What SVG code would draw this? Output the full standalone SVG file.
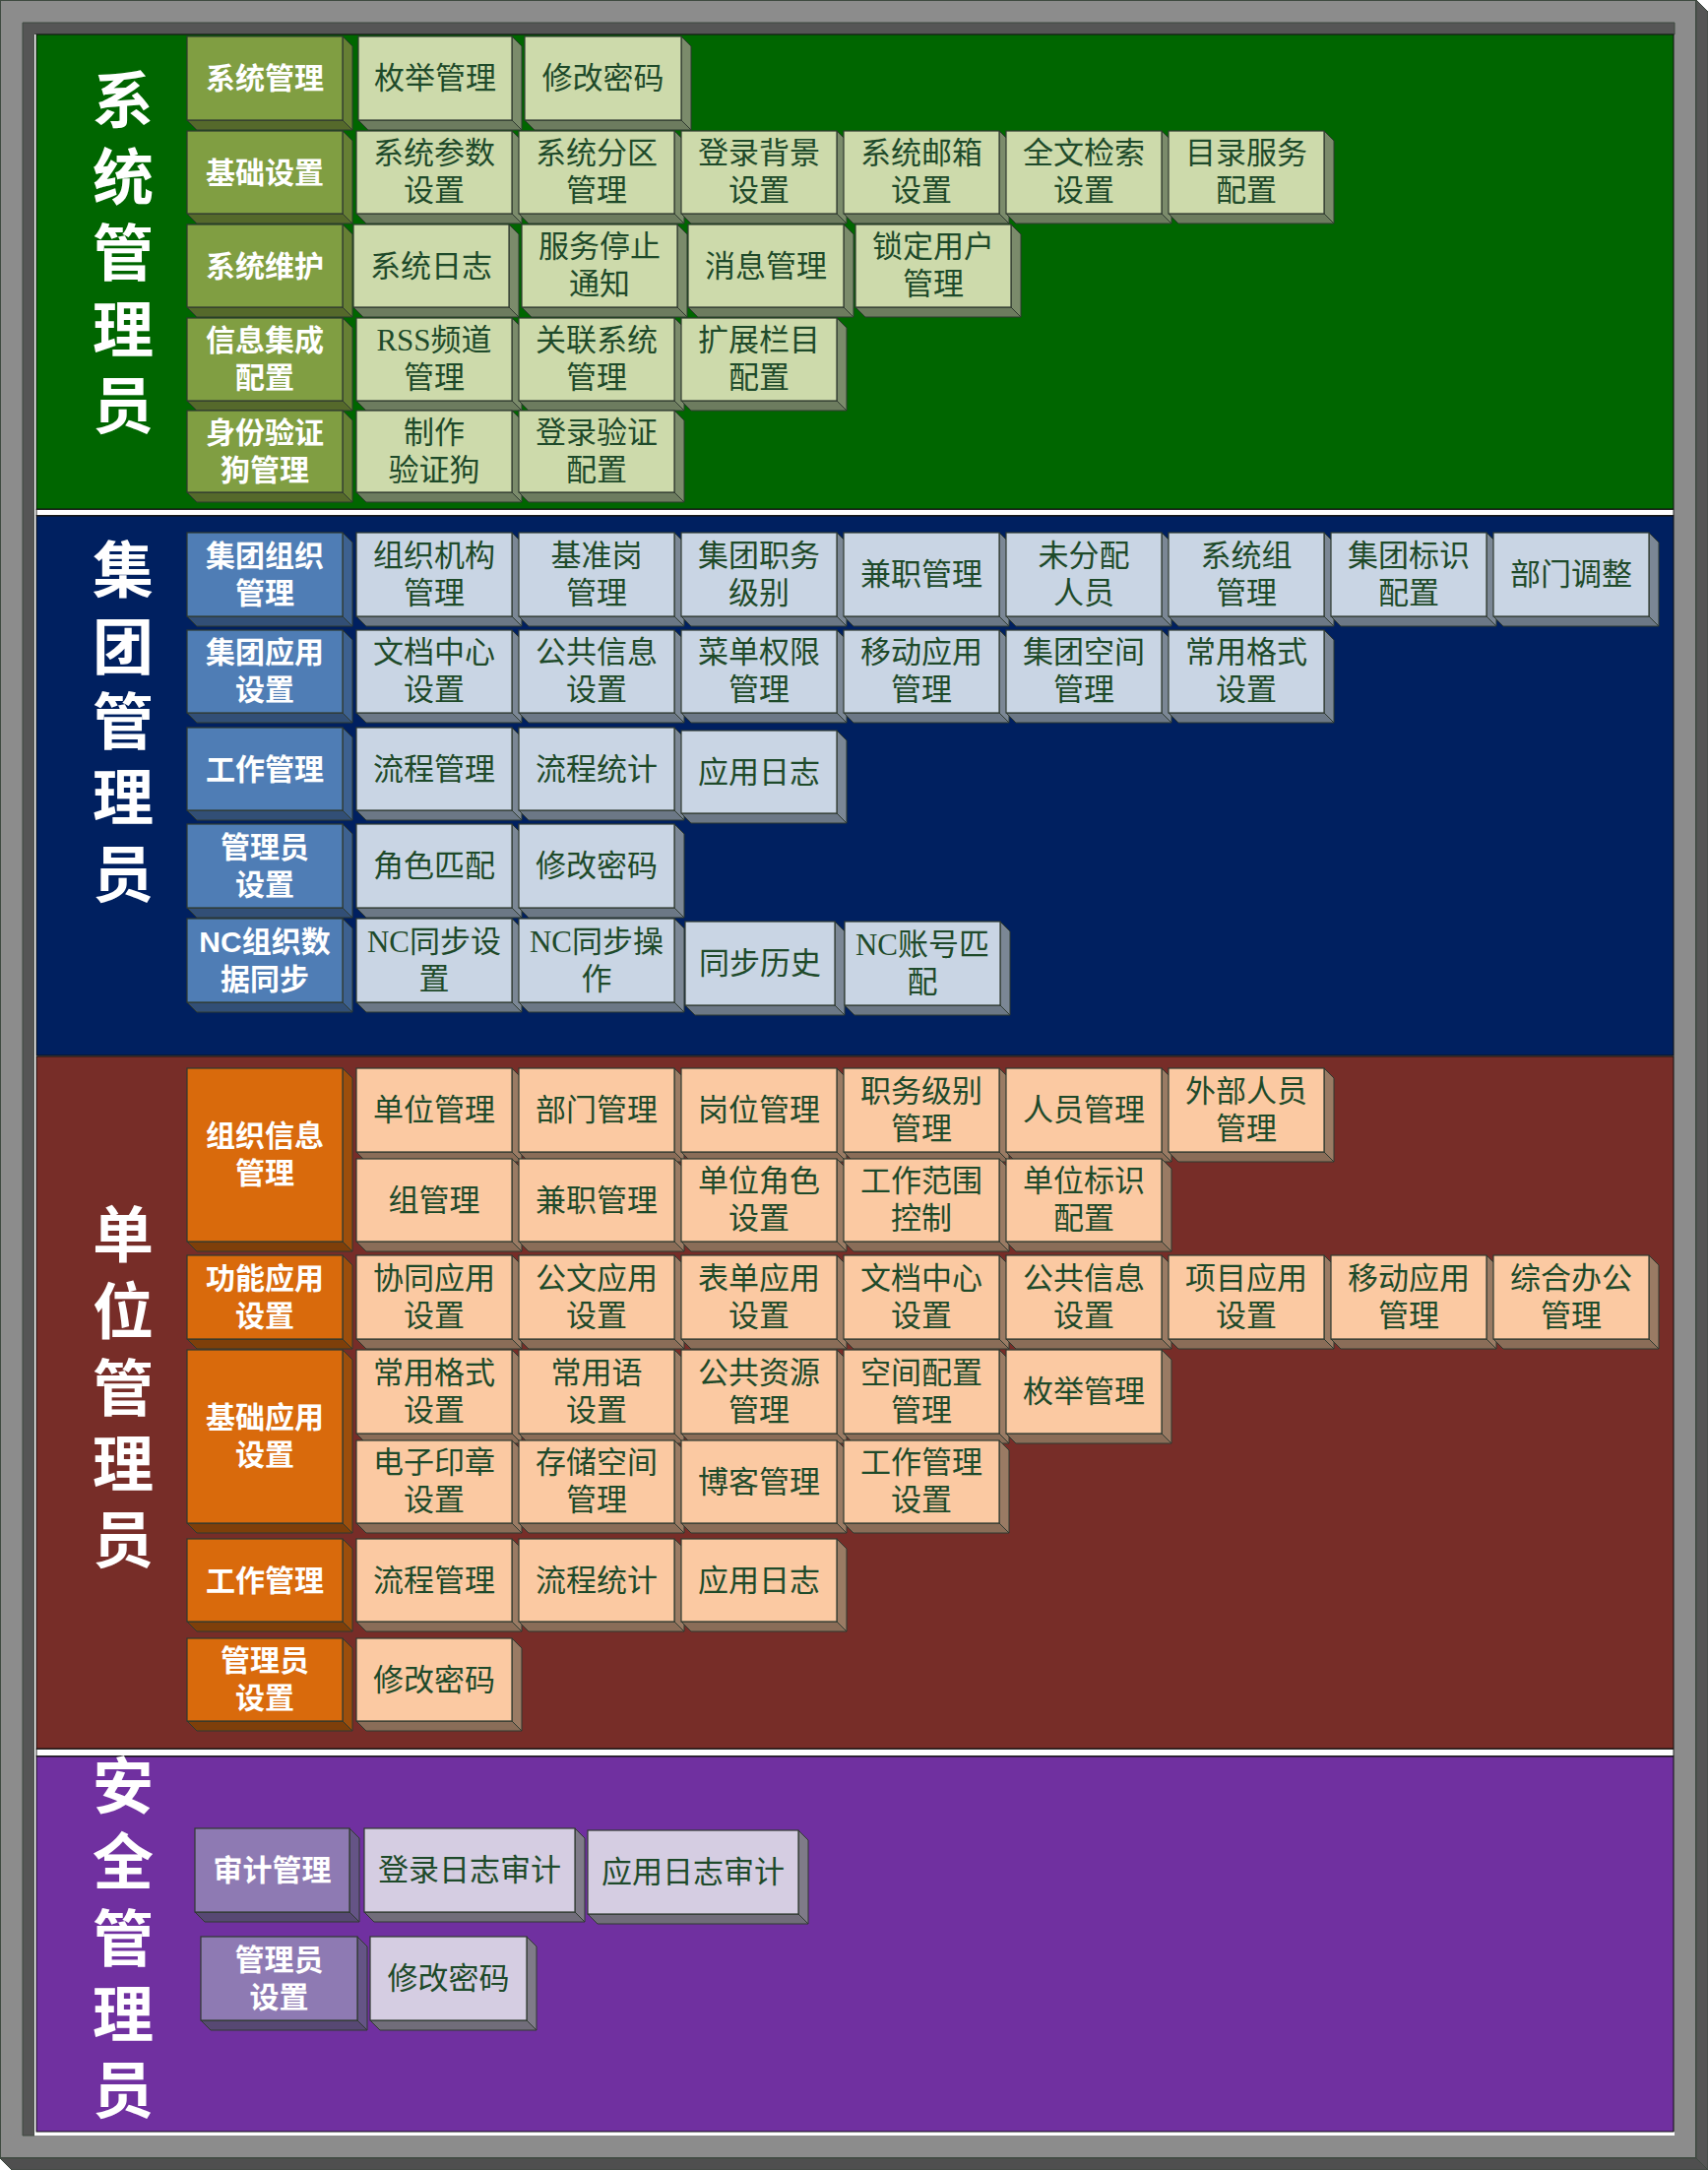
<svg xmlns="http://www.w3.org/2000/svg" width="1735" height="2204" viewBox="0 0 1735 2204">
<style>
.t{font-family:"Liberation Sans","Noto Sans CJK SC",sans-serif;font-weight:700;font-size:62px;fill:#fff;text-anchor:middle;dominant-baseline:central}
.ct{font-family:"Liberation Sans","Noto Sans CJK SC",sans-serif;font-weight:700;font-size:30px;fill:#fff;text-anchor:middle;dominant-baseline:central}
.it{font-family:"Liberation Serif","Noto Sans CJK SC",serif;font-size:31px;fill:#1e4a2a;text-anchor:middle;dominant-baseline:central}
.f{stroke:#2f3a30;stroke-width:1.2}
.r,.b{stroke:#2f3a30;stroke-width:1}
.gc .f{fill:#809e42}.gc .r{fill:#667f34}.gc .b{fill:#55692b}
.gi .f{fill:#cddaab}.gi .r{fill:#7b8b6b}.gi .b{fill:#6d7c5f}
.bc .f{fill:#4f7db5}.bc .r{fill:#3d6190}.bc .b{fill:#324f76}
.bi .f{fill:#c9d5e4}.bi .r{fill:#7b8795}.bi .b{fill:#6c7886}
.rc .f{fill:#d96a0c}.rc .r{fill:#9c4e0c}.rc .b{fill:#7e3f0a}
.ri .f{fill:#fbc9a2}.ri .r{fill:#9a7b64}.ri .b{fill:#8a6d58}
.pc .f{fill:#8e7ab3}.pc .r{fill:#655486}.pc .b{fill:#574873}
.pi .f{fill:#d5cde2}.pi .r{fill:#7f7b88}.pi .b{fill:#716d7a}
</style>

<g id="frame">
<rect x="0.5" y="0.5" width="1722" height="2191" fill="#8c8c8c" stroke="#3e4a40"/>
<polygon points="1723,0 1735,12 1735,2204 1723,2192" fill="#555" stroke="#3e4a40"/>
<polygon points="0,2192 1723,2192 1735,2204 12,2204" fill="#4f4f4f" stroke="#3e4a40"/>
<polygon points="23,23 1701,23 1701,35 35,35 35,2169 23,2169" fill="#555" stroke="#3e4a40"/>
<rect x="35" y="35" width="3" height="2134" fill="#fff"/>
<rect x="35" y="2165" width="1666" height="4" fill="#fff"/>
</g>

<g id="sections">
<rect x="37" y="35" width="1663" height="482" fill="#006600" stroke="#111"/>
<rect x="37" y="517.5" width="1663" height="6" fill="#fff" stroke="#222"/>
<rect x="37" y="524" width="1663" height="548" fill="#002060" stroke="#111"/>
<rect x="37" y="1073" width="1663" height="703" fill="#772d28" stroke="#111"/>
<rect x="37" y="1776.5" width="1663" height="7" fill="#fff" stroke="#222"/>
<rect x="37" y="1784" width="1663" height="381" fill="#7030a0" stroke="#111"/>
</g>

<g id="titles">
<text class="t"><tspan x="125" y="103">系</tspan><tspan x="125" y="181">统</tspan><tspan x="125" y="258">管</tspan><tspan x="125" y="336">理</tspan><tspan x="125" y="413">员</tspan></text>
<text class="t"><tspan x="125" y="580">集</tspan><tspan x="125" y="658">团</tspan><tspan x="125" y="734">管</tspan><tspan x="125" y="811">理</tspan><tspan x="125" y="889">员</tspan></text>
<text class="t"><tspan x="125" y="1255">单</tspan><tspan x="125" y="1333">位</tspan><tspan x="125" y="1411">管</tspan><tspan x="125" y="1488">理</tspan><tspan x="125" y="1565">员</tspan></text>
<text class="t"><tspan x="125" y="1815">安</tspan><tspan x="125" y="1892">全</tspan><tspan x="125" y="1970">管</tspan><tspan x="125" y="2047">理</tspan><tspan x="125" y="2124">员</tspan></text>
</g>

<g id="connectors"/>

<!-- GREEN -->
<g id="g-c1" class="gc"><polygon class="r" points="348,37 358,47 358,132 348,122"/><polygon class="b" points="190,122 348,122 358,132 200,132"/><rect class="f" x="190" y="37" width="158" height="85"/><text class="ct" x="269" y="79.5">系统管理</text></g>
<g id="g-c2" class="gc"><polygon class="r" points="348,133 358,143 358,227 348,217"/><polygon class="b" points="190,217 348,217 358,227 200,227"/><rect class="f" x="190" y="133" width="158" height="84"/><text class="ct" x="269" y="175">基础设置</text></g>
<g id="g-c3" class="gc"><polygon class="r" points="348,228 358,238 358,322 348,312"/><polygon class="b" points="190,312 348,312 358,322 200,322"/><rect class="f" x="190" y="228" width="158" height="84"/><text class="ct" x="269" y="270">系统维护</text></g>
<g id="g-c4" class="gc"><polygon class="r" points="348,323 358,333 358,417 348,407"/><polygon class="b" points="190,407 348,407 358,417 200,417"/><rect class="f" x="190" y="323" width="158" height="84"/><text class="ct"><tspan x="269" y="345">信息集成</tspan><tspan x="269" y="383">配置</tspan></text></g>
<g id="g-c5" class="gc"><polygon class="r" points="348,417 358,427 358,510 348,500"/><polygon class="b" points="190,500 348,500 358,510 200,510"/><rect class="f" x="190" y="417" width="158" height="83"/><text class="ct"><tspan x="269" y="438.5">身份验证</tspan><tspan x="269" y="476.5">狗管理</tspan></text></g>

<g id="g1-1" class="gi"><polygon class="r" points="520,37 530,47 530,132 520,122"/><polygon class="b" points="364,122 520,122 530,132 374,132"/><rect class="f" x="364" y="37" width="156" height="85"/><text class="it" x="442" y="79.5">枚举管理</text></g>
<g id="g1-2" class="gi"><polygon class="r" points="692,37 702,47 702,132 692,122"/><polygon class="b" points="533,122 692,122 702,132 543,132"/><rect class="f" x="533" y="37" width="159" height="85"/><text class="it" x="612.5" y="79.5">修改密码</text></g>

<g id="g2-1" class="gi"><polygon class="r" points="520,133 530,143 530,227 520,217"/><polygon class="b" points="362,217 520,217 530,227 372,227"/><rect class="f" x="362" y="133" width="158" height="84"/><text class="it"><tspan x="441" y="155">系统参数</tspan><tspan x="441" y="193">设置</tspan></text></g>
<g id="g2-2" class="gi"><polygon class="r" points="685,133 695,143 695,227 685,217"/><polygon class="b" points="527,217 685,217 695,227 537,227"/><rect class="f" x="527" y="133" width="158" height="84"/><text class="it"><tspan x="606" y="155">系统分区</tspan><tspan x="606" y="193">管理</tspan></text></g>
<g id="g2-3" class="gi"><polygon class="r" points="850,133 860,143 860,227 850,217"/><polygon class="b" points="692,217 850,217 860,227 702,227"/><rect class="f" x="692" y="133" width="158" height="84"/><text class="it"><tspan x="771" y="155">登录背景</tspan><tspan x="771" y="193">设置</tspan></text></g>
<g id="g2-4" class="gi"><polygon class="r" points="1015,133 1025,143 1025,227 1015,217"/><polygon class="b" points="857,217 1015,217 1025,227 867,227"/><rect class="f" x="857" y="133" width="158" height="84"/><text class="it"><tspan x="936" y="155">系统邮箱</tspan><tspan x="936" y="193">设置</tspan></text></g>
<g id="g2-5" class="gi"><polygon class="r" points="1180,133 1190,143 1190,227 1180,217"/><polygon class="b" points="1022,217 1180,217 1190,227 1032,227"/><rect class="f" x="1022" y="133" width="158" height="84"/><text class="it"><tspan x="1101" y="155">全文检索</tspan><tspan x="1101" y="193">设置</tspan></text></g>
<g id="g2-6" class="gi"><polygon class="r" points="1345,133 1355,143 1355,227 1345,217"/><polygon class="b" points="1187,217 1345,217 1355,227 1197,227"/><rect class="f" x="1187" y="133" width="158" height="84"/><text class="it"><tspan x="1266" y="155">目录服务</tspan><tspan x="1266" y="193">配置</tspan></text></g>

<g id="g3-1" class="gi"><polygon class="r" points="517,228 527,238 527,322 517,312"/><polygon class="b" points="359,312 517,312 527,322 369,322"/><rect class="f" x="359" y="228" width="158" height="84"/><text class="it" x="438" y="270">系统日志</text></g>
<g id="g3-2" class="gi"><polygon class="r" points="688,228 698,238 698,322 688,312"/><polygon class="b" points="530,312 688,312 698,322 540,322"/><rect class="f" x="530" y="228" width="158" height="84"/><text class="it"><tspan x="609" y="250">服务停止</tspan><tspan x="609" y="288">通知</tspan></text></g>
<g id="g3-3" class="gi"><polygon class="r" points="857,228 867,238 867,322 857,312"/><polygon class="b" points="699,312 857,312 867,322 709,322"/><rect class="f" x="699" y="228" width="158" height="84"/><text class="it" x="778" y="270">消息管理</text></g>
<g id="g3-4" class="gi"><polygon class="r" points="1027,228 1037,238 1037,322 1027,312"/><polygon class="b" points="869,312 1027,312 1037,322 879,322"/><rect class="f" x="869" y="228" width="158" height="84"/><text class="it"><tspan x="948" y="250">锁定用户</tspan><tspan x="948" y="288">管理</tspan></text></g>

<g id="g4-1" class="gi"><polygon class="r" points="520,323 530,333 530,417 520,407"/><polygon class="b" points="362,407 520,407 530,417 372,417"/><rect class="f" x="362" y="323" width="158" height="84"/><text class="it"><tspan x="441" y="345">RSS频道</tspan><tspan x="441" y="383">管理</tspan></text></g>
<g id="g4-2" class="gi"><polygon class="r" points="685,323 695,333 695,417 685,407"/><polygon class="b" points="527,407 685,407 695,417 537,417"/><rect class="f" x="527" y="323" width="158" height="84"/><text class="it"><tspan x="606" y="345">关联系统</tspan><tspan x="606" y="383">管理</tspan></text></g>
<g id="g4-3" class="gi"><polygon class="r" points="850,323 860,333 860,417 850,407"/><polygon class="b" points="692,407 850,407 860,417 702,417"/><rect class="f" x="692" y="323" width="158" height="84"/><text class="it"><tspan x="771" y="345">扩展栏目</tspan><tspan x="771" y="383">配置</tspan></text></g>

<g id="g5-1" class="gi"><polygon class="r" points="520,417 530,427 530,510 520,500"/><polygon class="b" points="362,500 520,500 530,510 372,510"/><rect class="f" x="362" y="417" width="158" height="83"/><text class="it"><tspan x="441" y="438.5">制作</tspan><tspan x="441" y="476.5">验证狗</tspan></text></g>
<g id="g5-2" class="gi"><polygon class="r" points="685,417 695,427 695,510 685,500"/><polygon class="b" points="527,500 685,500 695,510 537,510"/><rect class="f" x="527" y="417" width="158" height="83"/><text class="it"><tspan x="606" y="438.5">登录验证</tspan><tspan x="606" y="476.5">配置</tspan></text></g>

<!-- BLUE -->
<g id="b-c1" class="bc"><polygon class="r" points="348,541 358,551 358,636 348,626"/><polygon class="b" points="190,626 348,626 358,636 200,636"/><rect class="f" x="190" y="541" width="158" height="85"/><text class="ct"><tspan x="269" y="563.5">集团组织</tspan><tspan x="269" y="601.5">管理</tspan></text></g>
<g id="b-c2" class="bc"><polygon class="r" points="348,640 358,650 358,734 348,724"/><polygon class="b" points="190,724 348,724 358,734 200,734"/><rect class="f" x="190" y="640" width="158" height="84"/><text class="ct"><tspan x="269" y="662">集团应用</tspan><tspan x="269" y="700">设置</tspan></text></g>
<g id="b-c3" class="bc"><polygon class="r" points="348,739 358,749 358,833 348,823"/><polygon class="b" points="190,823 348,823 358,833 200,833"/><rect class="f" x="190" y="739" width="158" height="84"/><text class="ct" x="269" y="781">工作管理</text></g>
<g id="b-c4" class="bc"><polygon class="r" points="348,837 358,847 358,932 348,922"/><polygon class="b" points="190,922 348,922 358,932 200,932"/><rect class="f" x="190" y="837" width="158" height="85"/><text class="ct"><tspan x="269" y="859.5">管理员</tspan><tspan x="269" y="897.5">设置</tspan></text></g>
<g id="b-c5" class="bc"><polygon class="r" points="348,933 358,943 358,1028 348,1018"/><polygon class="b" points="190,1018 348,1018 358,1028 200,1028"/><rect class="f" x="190" y="933" width="158" height="85"/><text class="ct"><tspan x="269" y="955.5">NC组织数</tspan><tspan x="269" y="993.5">据同步</tspan></text></g>

<g id="b1-1" class="bi"><polygon class="r" points="520,541 530,551 530,636 520,626"/><polygon class="b" points="362,626 520,626 530,636 372,636"/><rect class="f" x="362" y="541" width="158" height="85"/><text class="it"><tspan x="441" y="563.5">组织机构</tspan><tspan x="441" y="601.5">管理</tspan></text></g>
<g id="b1-2" class="bi"><polygon class="r" points="685,541 695,551 695,636 685,626"/><polygon class="b" points="527,626 685,626 695,636 537,636"/><rect class="f" x="527" y="541" width="158" height="85"/><text class="it"><tspan x="606" y="563.5">基准岗</tspan><tspan x="606" y="601.5">管理</tspan></text></g>
<g id="b1-3" class="bi"><polygon class="r" points="850,541 860,551 860,636 850,626"/><polygon class="b" points="692,626 850,626 860,636 702,636"/><rect class="f" x="692" y="541" width="158" height="85"/><text class="it"><tspan x="771" y="563.5">集团职务</tspan><tspan x="771" y="601.5">级别</tspan></text></g>
<g id="b1-4" class="bi"><polygon class="r" points="1015,541 1025,551 1025,636 1015,626"/><polygon class="b" points="857,626 1015,626 1025,636 867,636"/><rect class="f" x="857" y="541" width="158" height="85"/><text class="it" x="936" y="583.5">兼职管理</text></g>
<g id="b1-5" class="bi"><polygon class="r" points="1180,541 1190,551 1190,636 1180,626"/><polygon class="b" points="1022,626 1180,626 1190,636 1032,636"/><rect class="f" x="1022" y="541" width="158" height="85"/><text class="it"><tspan x="1101" y="563.5">未分配</tspan><tspan x="1101" y="601.5">人员</tspan></text></g>
<g id="b1-6" class="bi"><polygon class="r" points="1345,541 1355,551 1355,636 1345,626"/><polygon class="b" points="1187,626 1345,626 1355,636 1197,636"/><rect class="f" x="1187" y="541" width="158" height="85"/><text class="it"><tspan x="1266" y="563.5">系统组</tspan><tspan x="1266" y="601.5">管理</tspan></text></g>
<g id="b1-7" class="bi"><polygon class="r" points="1510,541 1520,551 1520,636 1510,626"/><polygon class="b" points="1352,626 1510,626 1520,636 1362,636"/><rect class="f" x="1352" y="541" width="158" height="85"/><text class="it"><tspan x="1431" y="563.5">集团标识</tspan><tspan x="1431" y="601.5">配置</tspan></text></g>
<g id="b1-8" class="bi"><polygon class="r" points="1675,541 1685,551 1685,636 1675,626"/><polygon class="b" points="1517,626 1675,626 1685,636 1527,636"/><rect class="f" x="1517" y="541" width="158" height="85"/><text class="it" x="1596" y="583.5">部门调整</text></g>

<g id="b2-1" class="bi"><polygon class="r" points="520,640 530,650 530,734 520,724"/><polygon class="b" points="362,724 520,724 530,734 372,734"/><rect class="f" x="362" y="640" width="158" height="84"/><text class="it"><tspan x="441" y="662">文档中心</tspan><tspan x="441" y="700">设置</tspan></text></g>
<g id="b2-2" class="bi"><polygon class="r" points="685,640 695,650 695,734 685,724"/><polygon class="b" points="527,724 685,724 695,734 537,734"/><rect class="f" x="527" y="640" width="158" height="84"/><text class="it"><tspan x="606" y="662">公共信息</tspan><tspan x="606" y="700">设置</tspan></text></g>
<g id="b2-3" class="bi"><polygon class="r" points="850,640 860,650 860,734 850,724"/><polygon class="b" points="692,724 850,724 860,734 702,734"/><rect class="f" x="692" y="640" width="158" height="84"/><text class="it"><tspan x="771" y="662">菜单权限</tspan><tspan x="771" y="700">管理</tspan></text></g>
<g id="b2-4" class="bi"><polygon class="r" points="1015,640 1025,650 1025,734 1015,724"/><polygon class="b" points="857,724 1015,724 1025,734 867,734"/><rect class="f" x="857" y="640" width="158" height="84"/><text class="it"><tspan x="936" y="662">移动应用</tspan><tspan x="936" y="700">管理</tspan></text></g>
<g id="b2-5" class="bi"><polygon class="r" points="1180,640 1190,650 1190,734 1180,724"/><polygon class="b" points="1022,724 1180,724 1190,734 1032,734"/><rect class="f" x="1022" y="640" width="158" height="84"/><text class="it"><tspan x="1101" y="662">集团空间</tspan><tspan x="1101" y="700">管理</tspan></text></g>
<g id="b2-6" class="bi"><polygon class="r" points="1345,640 1355,650 1355,734 1345,724"/><polygon class="b" points="1187,724 1345,724 1355,734 1197,734"/><rect class="f" x="1187" y="640" width="158" height="84"/><text class="it"><tspan x="1266" y="662">常用格式</tspan><tspan x="1266" y="700">设置</tspan></text></g>

<g id="b3-1" class="bi"><polygon class="r" points="520,739 530,749 530,833 520,823"/><polygon class="b" points="362,823 520,823 530,833 372,833"/><rect class="f" x="362" y="739" width="158" height="84"/><text class="it" x="441" y="781">流程管理</text></g>
<g id="b3-2" class="bi"><polygon class="r" points="685,739 695,749 695,833 685,823"/><polygon class="b" points="527,823 685,823 695,833 537,833"/><rect class="f" x="527" y="739" width="158" height="84"/><text class="it" x="606" y="781">流程统计</text></g>
<g id="b3-3" class="bi"><polygon class="r" points="850,742 860,752 860,836 850,826"/><polygon class="b" points="692,826 850,826 860,836 702,836"/><rect class="f" x="692" y="742" width="158" height="84"/><text class="it" x="771" y="784">应用日志</text></g>

<g id="b4-1" class="bi"><polygon class="r" points="520,837 530,847 530,932 520,922"/><polygon class="b" points="362,922 520,922 530,932 372,932"/><rect class="f" x="362" y="837" width="158" height="85"/><text class="it" x="441" y="879.5">角色匹配</text></g>
<g id="b4-2" class="bi"><polygon class="r" points="685,837 695,847 695,932 685,922"/><polygon class="b" points="527,922 685,922 695,932 537,932"/><rect class="f" x="527" y="837" width="158" height="85"/><text class="it" x="606" y="879.5">修改密码</text></g>

<g id="b5-1" class="bi"><polygon class="r" points="520,933 530,943 530,1028 520,1018"/><polygon class="b" points="362,1018 520,1018 530,1028 372,1028"/><rect class="f" x="362" y="933" width="158" height="85"/><text class="it"><tspan x="441" y="955.5">NC同步设</tspan><tspan x="441" y="993.5">置</tspan></text></g>
<g id="b5-2" class="bi"><polygon class="r" points="685,933 695,943 695,1028 685,1018"/><polygon class="b" points="527,1018 685,1018 695,1028 537,1028"/><rect class="f" x="527" y="933" width="158" height="85"/><text class="it"><tspan x="606" y="955.5">NC同步操</tspan><tspan x="606" y="993.5">作</tspan></text></g>
<g id="b5-3" class="bi"><polygon class="r" points="848,936 858,946 858,1031 848,1021"/><polygon class="b" points="696,1021 848,1021 858,1031 706,1031"/><rect class="f" x="696" y="936" width="152" height="85"/><text class="it" x="772" y="978.5">同步历史</text></g>
<g id="b5-4" class="bi"><polygon class="r" points="1016,936 1026,946 1026,1031 1016,1021"/><polygon class="b" points="858,1021 1016,1021 1026,1031 868,1031"/><rect class="f" x="858" y="936" width="158" height="85"/><text class="it"><tspan x="937" y="958.5">NC账号匹</tspan><tspan x="937" y="996.5">配</tspan></text></g>

<!-- RED -->
<g id="r-c1" class="rc"><polygon class="r" points="348,1085 358,1095 358,1271 348,1261"/><polygon class="b" points="190,1261 348,1261 358,1271 200,1271"/><rect class="f" x="190" y="1085" width="158" height="176"/><text class="ct"><tspan x="269" y="1153">组织信息</tspan><tspan x="269" y="1191">管理</tspan></text></g>
<g id="r-c2" class="rc"><polygon class="r" points="348,1275 358,1285 358,1370 348,1360"/><polygon class="b" points="190,1360 348,1360 358,1370 200,1370"/><rect class="f" x="190" y="1275" width="158" height="85"/><text class="ct"><tspan x="269" y="1297.5">功能应用</tspan><tspan x="269" y="1335.5">设置</tspan></text></g>
<g id="r-c3" class="rc"><polygon class="r" points="348,1371 358,1381 358,1557 348,1547"/><polygon class="b" points="190,1547 348,1547 358,1557 200,1557"/><rect class="f" x="190" y="1371" width="158" height="176"/><text class="ct"><tspan x="269" y="1439">基础应用</tspan><tspan x="269" y="1477">设置</tspan></text></g>
<g id="r-c4" class="rc"><polygon class="r" points="348,1563 358,1573 358,1657 348,1647"/><polygon class="b" points="190,1647 348,1647 358,1657 200,1657"/><rect class="f" x="190" y="1563" width="158" height="84"/><text class="ct" x="269" y="1605">工作管理</text></g>
<g id="r-c5" class="rc"><polygon class="r" points="348,1664 358,1674 358,1758 348,1748"/><polygon class="b" points="190,1748 348,1748 358,1758 200,1758"/><rect class="f" x="190" y="1664" width="158" height="84"/><text class="ct"><tspan x="269" y="1686">管理员</tspan><tspan x="269" y="1724">设置</tspan></text></g>

<g id="r1-1" class="ri"><polygon class="r" points="520,1085 530,1095 530,1180 520,1170"/><polygon class="b" points="362,1170 520,1170 530,1180 372,1180"/><rect class="f" x="362" y="1085" width="158" height="85"/><text class="it" x="441" y="1127.5">单位管理</text></g>
<g id="r1-2" class="ri"><polygon class="r" points="685,1085 695,1095 695,1180 685,1170"/><polygon class="b" points="527,1170 685,1170 695,1180 537,1180"/><rect class="f" x="527" y="1085" width="158" height="85"/><text class="it" x="606" y="1127.5">部门管理</text></g>
<g id="r1-3" class="ri"><polygon class="r" points="850,1085 860,1095 860,1180 850,1170"/><polygon class="b" points="692,1170 850,1170 860,1180 702,1180"/><rect class="f" x="692" y="1085" width="158" height="85"/><text class="it" x="771" y="1127.5">岗位管理</text></g>
<g id="r1-4" class="ri"><polygon class="r" points="1015,1085 1025,1095 1025,1180 1015,1170"/><polygon class="b" points="857,1170 1015,1170 1025,1180 867,1180"/><rect class="f" x="857" y="1085" width="158" height="85"/><text class="it"><tspan x="936" y="1107.5">职务级别</tspan><tspan x="936" y="1145.5">管理</tspan></text></g>
<g id="r1-5" class="ri"><polygon class="r" points="1180,1085 1190,1095 1190,1180 1180,1170"/><polygon class="b" points="1022,1170 1180,1170 1190,1180 1032,1180"/><rect class="f" x="1022" y="1085" width="158" height="85"/><text class="it" x="1101" y="1127.5">人员管理</text></g>
<g id="r1-6" class="ri"><polygon class="r" points="1345,1085 1355,1095 1355,1180 1345,1170"/><polygon class="b" points="1187,1170 1345,1170 1355,1180 1197,1180"/><rect class="f" x="1187" y="1085" width="158" height="85"/><text class="it"><tspan x="1266" y="1107.5">外部人员</tspan><tspan x="1266" y="1145.5">管理</tspan></text></g>

<g id="r2-1" class="ri"><polygon class="r" points="520,1177 530,1187 530,1271 520,1261"/><polygon class="b" points="362,1261 520,1261 530,1271 372,1271"/><rect class="f" x="362" y="1177" width="158" height="84"/><text class="it" x="441" y="1219">组管理</text></g>
<g id="r2-2" class="ri"><polygon class="r" points="685,1177 695,1187 695,1271 685,1261"/><polygon class="b" points="527,1261 685,1261 695,1271 537,1271"/><rect class="f" x="527" y="1177" width="158" height="84"/><text class="it" x="606" y="1219">兼职管理</text></g>
<g id="r2-3" class="ri"><polygon class="r" points="850,1177 860,1187 860,1271 850,1261"/><polygon class="b" points="692,1261 850,1261 860,1271 702,1271"/><rect class="f" x="692" y="1177" width="158" height="84"/><text class="it"><tspan x="771" y="1199">单位角色</tspan><tspan x="771" y="1237">设置</tspan></text></g>
<g id="r2-4" class="ri"><polygon class="r" points="1015,1177 1025,1187 1025,1271 1015,1261"/><polygon class="b" points="857,1261 1015,1261 1025,1271 867,1271"/><rect class="f" x="857" y="1177" width="158" height="84"/><text class="it"><tspan x="936" y="1199">工作范围</tspan><tspan x="936" y="1237">控制</tspan></text></g>
<g id="r2-5" class="ri"><polygon class="r" points="1180,1177 1190,1187 1190,1271 1180,1261"/><polygon class="b" points="1022,1261 1180,1261 1190,1271 1032,1271"/><rect class="f" x="1022" y="1177" width="158" height="84"/><text class="it"><tspan x="1101" y="1199">单位标识</tspan><tspan x="1101" y="1237">配置</tspan></text></g>

<g id="r3-1" class="ri"><polygon class="r" points="520,1275 530,1285 530,1370 520,1360"/><polygon class="b" points="362,1360 520,1360 530,1370 372,1370"/><rect class="f" x="362" y="1275" width="158" height="85"/><text class="it"><tspan x="441" y="1297.5">协同应用</tspan><tspan x="441" y="1335.5">设置</tspan></text></g>
<g id="r3-2" class="ri"><polygon class="r" points="685,1275 695,1285 695,1370 685,1360"/><polygon class="b" points="527,1360 685,1360 695,1370 537,1370"/><rect class="f" x="527" y="1275" width="158" height="85"/><text class="it"><tspan x="606" y="1297.5">公文应用</tspan><tspan x="606" y="1335.5">设置</tspan></text></g>
<g id="r3-3" class="ri"><polygon class="r" points="850,1275 860,1285 860,1370 850,1360"/><polygon class="b" points="692,1360 850,1360 860,1370 702,1370"/><rect class="f" x="692" y="1275" width="158" height="85"/><text class="it"><tspan x="771" y="1297.5">表单应用</tspan><tspan x="771" y="1335.5">设置</tspan></text></g>
<g id="r3-4" class="ri"><polygon class="r" points="1015,1275 1025,1285 1025,1370 1015,1360"/><polygon class="b" points="857,1360 1015,1360 1025,1370 867,1370"/><rect class="f" x="857" y="1275" width="158" height="85"/><text class="it"><tspan x="936" y="1297.5">文档中心</tspan><tspan x="936" y="1335.5">设置</tspan></text></g>
<g id="r3-5" class="ri"><polygon class="r" points="1180,1275 1190,1285 1190,1370 1180,1360"/><polygon class="b" points="1022,1360 1180,1360 1190,1370 1032,1370"/><rect class="f" x="1022" y="1275" width="158" height="85"/><text class="it"><tspan x="1101" y="1297.5">公共信息</tspan><tspan x="1101" y="1335.5">设置</tspan></text></g>
<g id="r3-6" class="ri"><polygon class="r" points="1345,1275 1355,1285 1355,1370 1345,1360"/><polygon class="b" points="1187,1360 1345,1360 1355,1370 1197,1370"/><rect class="f" x="1187" y="1275" width="158" height="85"/><text class="it"><tspan x="1266" y="1297.5">项目应用</tspan><tspan x="1266" y="1335.5">设置</tspan></text></g>
<g id="r3-7" class="ri"><polygon class="r" points="1510,1275 1520,1285 1520,1370 1510,1360"/><polygon class="b" points="1352,1360 1510,1360 1520,1370 1362,1370"/><rect class="f" x="1352" y="1275" width="158" height="85"/><text class="it"><tspan x="1431" y="1297.5">移动应用</tspan><tspan x="1431" y="1335.5">管理</tspan></text></g>
<g id="r3-8" class="ri"><polygon class="r" points="1675,1275 1685,1285 1685,1370 1675,1360"/><polygon class="b" points="1517,1360 1675,1360 1685,1370 1527,1370"/><rect class="f" x="1517" y="1275" width="158" height="85"/><text class="it"><tspan x="1596" y="1297.5">综合办公</tspan><tspan x="1596" y="1335.5">管理</tspan></text></g>

<g id="r4-1" class="ri"><polygon class="r" points="520,1371 530,1381 530,1466 520,1456"/><polygon class="b" points="362,1456 520,1456 530,1466 372,1466"/><rect class="f" x="362" y="1371" width="158" height="85"/><text class="it"><tspan x="441" y="1393.5">常用格式</tspan><tspan x="441" y="1431.5">设置</tspan></text></g>
<g id="r4-2" class="ri"><polygon class="r" points="685,1371 695,1381 695,1466 685,1456"/><polygon class="b" points="527,1456 685,1456 695,1466 537,1466"/><rect class="f" x="527" y="1371" width="158" height="85"/><text class="it"><tspan x="606" y="1393.5">常用语</tspan><tspan x="606" y="1431.5">设置</tspan></text></g>
<g id="r4-3" class="ri"><polygon class="r" points="850,1371 860,1381 860,1466 850,1456"/><polygon class="b" points="692,1456 850,1456 860,1466 702,1466"/><rect class="f" x="692" y="1371" width="158" height="85"/><text class="it"><tspan x="771" y="1393.5">公共资源</tspan><tspan x="771" y="1431.5">管理</tspan></text></g>
<g id="r4-4" class="ri"><polygon class="r" points="1015,1371 1025,1381 1025,1466 1015,1456"/><polygon class="b" points="857,1456 1015,1456 1025,1466 867,1466"/><rect class="f" x="857" y="1371" width="158" height="85"/><text class="it"><tspan x="936" y="1393.5">空间配置</tspan><tspan x="936" y="1431.5">管理</tspan></text></g>
<g id="r4-5" class="ri"><polygon class="r" points="1180,1371 1190,1381 1190,1466 1180,1456"/><polygon class="b" points="1022,1456 1180,1456 1190,1466 1032,1466"/><rect class="f" x="1022" y="1371" width="158" height="85"/><text class="it" x="1101" y="1413.5">枚举管理</text></g>

<g id="r5-1" class="ri"><polygon class="r" points="520,1463 530,1473 530,1557 520,1547"/><polygon class="b" points="362,1547 520,1547 530,1557 372,1557"/><rect class="f" x="362" y="1463" width="158" height="84"/><text class="it"><tspan x="441" y="1485">电子印章</tspan><tspan x="441" y="1523">设置</tspan></text></g>
<g id="r5-2" class="ri"><polygon class="r" points="685,1463 695,1473 695,1557 685,1547"/><polygon class="b" points="527,1547 685,1547 695,1557 537,1557"/><rect class="f" x="527" y="1463" width="158" height="84"/><text class="it"><tspan x="606" y="1485">存储空间</tspan><tspan x="606" y="1523">管理</tspan></text></g>
<g id="r5-3" class="ri"><polygon class="r" points="850,1463 860,1473 860,1557 850,1547"/><polygon class="b" points="692,1547 850,1547 860,1557 702,1557"/><rect class="f" x="692" y="1463" width="158" height="84"/><text class="it" x="771" y="1505">博客管理</text></g>
<g id="r5-4" class="ri"><polygon class="r" points="1015,1463 1025,1473 1025,1557 1015,1547"/><polygon class="b" points="857,1547 1015,1547 1025,1557 867,1557"/><rect class="f" x="857" y="1463" width="158" height="84"/><text class="it"><tspan x="936" y="1485">工作管理</tspan><tspan x="936" y="1523">设置</tspan></text></g>

<g id="r6-1" class="ri"><polygon class="r" points="520,1563 530,1573 530,1657 520,1647"/><polygon class="b" points="362,1647 520,1647 530,1657 372,1657"/><rect class="f" x="362" y="1563" width="158" height="84"/><text class="it" x="441" y="1605">流程管理</text></g>
<g id="r6-2" class="ri"><polygon class="r" points="685,1563 695,1573 695,1657 685,1647"/><polygon class="b" points="527,1647 685,1647 695,1657 537,1657"/><rect class="f" x="527" y="1563" width="158" height="84"/><text class="it" x="606" y="1605">流程统计</text></g>
<g id="r6-3" class="ri"><polygon class="r" points="850,1563 860,1573 860,1657 850,1647"/><polygon class="b" points="692,1647 850,1647 860,1657 702,1657"/><rect class="f" x="692" y="1563" width="158" height="84"/><text class="it" x="771" y="1605">应用日志</text></g>

<g id="r7-1" class="ri"><polygon class="r" points="520,1664 530,1674 530,1758 520,1748"/><polygon class="b" points="362,1748 520,1748 530,1758 372,1758"/><rect class="f" x="362" y="1664" width="158" height="84"/><text class="it" x="441" y="1706">修改密码</text></g>

<!-- PURPLE -->
<g id="p-c1" class="pc"><polygon class="r" points="355,1857 365,1867 365,1952 355,1942"/><polygon class="b" points="198,1942 355,1942 365,1952 208,1952"/><rect class="f" x="198" y="1857" width="157" height="85"/><text class="ct" x="276.5" y="1899.5">审计管理</text></g>
<g id="p-i1" class="pi"><polygon class="r" points="584,1857 594,1867 594,1952 584,1942"/><polygon class="b" points="370,1942 584,1942 594,1952 380,1952"/><rect class="f" x="370" y="1857" width="214" height="85"/><text class="it" x="477" y="1899.5">登录日志审计</text></g>
<g id="p-i2" class="pi"><polygon class="r" points="811,1859 821,1869 821,1954 811,1944"/><polygon class="b" points="597,1944 811,1944 821,1954 607,1954"/><rect class="f" x="597" y="1859" width="214" height="85"/><text class="it" x="704" y="1901.5">应用日志审计</text></g>
<g id="p-c2" class="pc"><polygon class="r" points="363,1967 373,1977 373,2062 363,2052"/><polygon class="b" points="204,2052 363,2052 373,2062 214,2062"/><rect class="f" x="204" y="1967" width="159" height="85"/><text class="ct"><tspan x="283.5" y="1989.5">管理员</tspan><tspan x="283.5" y="2027.5">设置</tspan></text></g>
<g id="p-i3" class="pi"><polygon class="r" points="535,1967 545,1977 545,2062 535,2052"/><polygon class="b" points="376,2052 535,2052 545,2062 386,2062"/><rect class="f" x="376" y="1967" width="159" height="85"/><text class="it" x="455.5" y="2009.5">修改密码</text></g>
</svg>
